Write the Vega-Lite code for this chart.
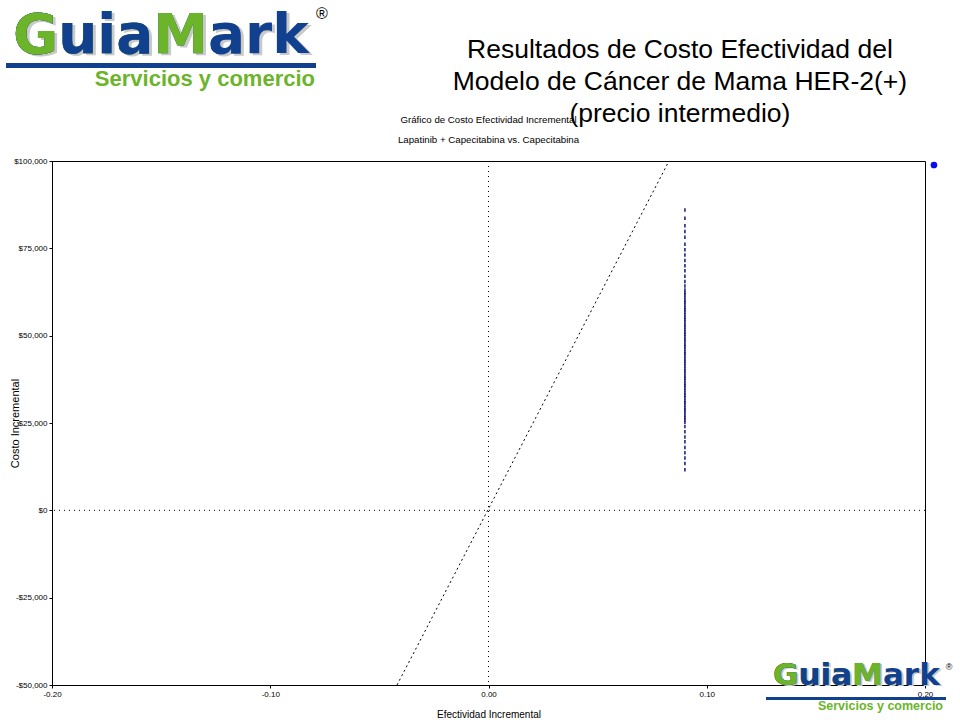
{
  "$schema": "https://vega.github.io/schema/vega-lite/v6.json",
  "width": 873,
  "height": 524,
  "autosize": {"type": "none"},
  "padding": {"left": 52, "top": 161, "right": 35, "bottom": 35},
  "background": "white",
  "config": {
    "view": {"stroke": "black", "strokeWidth": 1},
    "font": "Liberation Sans",
    "axis": {
      "grid": false, "tickSize": 3, "tickColor": "black", "domainColor": "black",
      "labelFont": "Liberation Sans", "labelFontSize": 8, "labelColor": "black", "labelPadding": 2,
      "labelFlush": false, "labelOverlap": false,
      "titleFont": "Liberation Sans", "titleFontSize": 10, "titleFontWeight": "normal", "titleColor": "black",
      "zindex": 1
    }
  },
  "datasets": {
    "zero": [{"v": 0}],
    "wtp": [{"x": -0.0419, "y": -50000}, {"x": 0.0827, "y": 100000}],
    "cluster": [
      {"x": 0.09, "y": 86000}, {"x": 0.09, "y": 83600}, {"x": 0.09, "y": 81500}, {"x": 0.09, "y": 79800}, {"x": 0.09, "y": 78200},
      {"x": 0.09, "y": 76200}, {"x": 0.09, "y": 74600}, {"x": 0.09, "y": 73100}, {"x": 0.09, "y": 71500}, {"x": 0.09, "y": 70000},
      {"x": 0.09, "y": 68600}, {"x": 0.09, "y": 67000}, {"x": 0.09, "y": 65500}, {"x": 0.09, "y": 64200},
      {"x": 0.09, "y": 63100}, {"x": 0.09, "y": 62300}, {"x": 0.09, "y": 61700}, {"x": 0.09, "y": 60900}, {"x": 0.09, "y": 60100},
      {"x": 0.09, "y": 59500}, {"x": 0.09, "y": 58800}, {"x": 0.09, "y": 58000}, {"x": 0.09, "y": 57400}, {"x": 0.09, "y": 56700},
      {"x": 0.09, "y": 56000}, {"x": 0.09, "y": 55200}, {"x": 0.09, "y": 54600}, {"x": 0.09, "y": 53900}, {"x": 0.09, "y": 53100},
      {"x": 0.09, "y": 52500}, {"x": 0.09, "y": 51800}, {"x": 0.09, "y": 51000}, {"x": 0.09, "y": 50400}, {"x": 0.09, "y": 49700},
      {"x": 0.09, "y": 49000}, {"x": 0.09, "y": 48300}, {"x": 0.09, "y": 47500}, {"x": 0.09, "y": 46900}, {"x": 0.09, "y": 46200},
      {"x": 0.09, "y": 45400}, {"x": 0.09, "y": 44800}, {"x": 0.09, "y": 44100}, {"x": 0.09, "y": 43300}, {"x": 0.09, "y": 42700},
      {"x": 0.09, "y": 42000}, {"x": 0.09, "y": 41300}, {"x": 0.09, "y": 40500}, {"x": 0.09, "y": 39900}, {"x": 0.09, "y": 39200},
      {"x": 0.09, "y": 38400}, {"x": 0.09, "y": 37800}, {"x": 0.09, "y": 37100}, {"x": 0.09, "y": 36300}, {"x": 0.09, "y": 35700},
      {"x": 0.09, "y": 35000}, {"x": 0.09, "y": 34300}, {"x": 0.09, "y": 33500}, {"x": 0.09, "y": 32900}, {"x": 0.09, "y": 32200},
      {"x": 0.09, "y": 31400}, {"x": 0.09, "y": 30800}, {"x": 0.09, "y": 30100}, {"x": 0.09, "y": 29300}, {"x": 0.09, "y": 28700},
      {"x": 0.09, "y": 28000}, {"x": 0.09, "y": 27200}, {"x": 0.09, "y": 26600}, {"x": 0.09, "y": 25900}, {"x": 0.09, "y": 25200},
      {"x": 0.09, "y": 24000}, {"x": 0.09, "y": 22500}, {"x": 0.09, "y": 21000}, {"x": 0.09, "y": 19600}, {"x": 0.09, "y": 18000},
      {"x": 0.09, "y": 16500}, {"x": 0.09, "y": 15000}, {"x": 0.09, "y": 13400}, {"x": 0.09, "y": 11600}
    ],
    "icer": [{"x": 0.2041, "y": 98855}],
    "heading": [
      {"x": 0.0877, "y": 129485, "t": "Resultados de Costo Efectividad del"},
      {"x": 0.0877, "y": 120324, "t": "Modelo de Cáncer de Mama HER-2(+)"},
      {"x": 0.0877, "y": 111164, "t": "(precio intermedio)"}
    ],
    "charttitle": [
      {"x": 0.0, "y": 110878, "t": "Gráfico de Costo Efectividad Incremental"},
      {"x": 0.0, "y": 105153, "t": "Lapatinib + Capecitabina vs. Capecitabina"}
    ],
    "logo1": [{"x": -0.21787, "y": 130916}],
    "bar1": [{"x": -0.22108, "x2": -0.07904, "y": 127338}],
    "serv1": [{"x": -0.0795, "y": 121470, "t": "Servicios y comercio"}],
    "reg1": [{"x": -0.07629, "y": 142080, "t": "®"}],
    "logo2": [{"x": 0.13036, "y": -50000}],
    "bar2": [{"x": 0.12715, "x2": 0.20962, "y": -53865}],
    "serv2": [{"x": 0.20825, "y": -57157, "t": "Servicios y comercio"}],
    "reg2": [{"x": 0.211, "y": -44848, "t": "®"}]
  },
  "encoding": {
    "x": {
      "field": "x", "type": "quantitative",
      "scale": {"domain": [-0.2, 0.2], "nice": false, "zero": false},
      "axis": {
        "values": [-0.2, -0.1, 0, 0.1, 0.2],
        "labelExpr": "(datum.value < 0 ? '-' : '') + format(abs(datum.value), '.2f')",
        "title": "Efectividad Incremental",
        "titlePadding": 11
      }
    },
    "y": {
      "field": "y", "type": "quantitative",
      "scale": {"domain": [-50000, 100000], "nice": false, "zero": false},
      "axis": {
        "values": [-50000, -25000, 0, 25000, 50000, 75000, 100000],
        "labelExpr": "(datum.value < 0 ? '-$' : '$') + format(abs(datum.value), ',')",
        "title": "Costo Incremental",
        "titleFontSize": 11,
        "titleAngle": -90, "titleX": -32, "titleY": 262, "titleAlign": "center", "titleBaseline": "bottom"
      }
    }
  },
  "layer": [
    {
      "data": {"name": "zero"},
      "mark": {"type": "rule", "color": "black", "strokeWidth": 1, "strokeDash": [1, 4]},
      "encoding": {
        "x": null,
        "y": {"field": "v", "type": "quantitative"}
      }
    },
    {
      "data": {"name": "zero"},
      "mark": {"type": "rule", "color": "black", "strokeWidth": 1, "strokeDash": [1, 4]},
      "encoding": {
        "y": null,
        "x": {"field": "v", "type": "quantitative"}
      }
    },
    {
      "data": {"name": "wtp"},
      "mark": {"type": "line", "color": "black", "strokeWidth": 1, "strokeDash": [2, 3]}
    },
    {
      "data": {"name": "cluster"},
      "mark": {"type": "tick", "orient": "vertical", "size": 3.5, "thickness": 1.5, "color": "#14147a", "opacity": 1}
    },
    {
      "data": {"name": "icer"},
      "mark": {"type": "point", "filled": true, "color": "#0a0af0", "size": 45, "opacity": 1}
    },
    {
      "data": {"name": "heading"},
      "mark": {"type": "text", "font": "Liberation Sans", "fontSize": 26.5, "color": "black", "align": "center", "baseline": "alphabetic"},
      "encoding": {"text": {"field": "t"}}
    },
    {
      "data": {"name": "charttitle"},
      "mark": {"type": "text", "font": "Liberation Sans", "fontSize": 9.7, "color": "black", "align": "center", "baseline": "alphabetic"},
      "encoding": {"text": {"field": "t"}}
    },
    {
      "data": {"name": "logo1"},
      "layer": [
        {"mark": {"type": "text", "text": "GuiaMark", "font": "DejaVu Sans", "fontWeight": "bold", "fontSize": 55, "align": "left", "baseline": "alphabetic", "color": "#c9c9c9", "dx": 3, "dy": 2}},
        {"mark": {"type": "text", "text": "GuiaMark", "font": "DejaVu Sans", "fontWeight": "bold", "fontSize": 55, "align": "left", "baseline": "alphabetic", "color": "#10408e"}},
        {"mark": {"type": "text", "text": "GuiaM", "font": "DejaVu Sans", "fontWeight": "bold", "fontSize": 55, "align": "left", "baseline": "alphabetic", "color": "#6cb42a"}},
        {"mark": {"type": "text", "text": "Guia", "font": "DejaVu Sans", "fontWeight": "bold", "fontSize": 55, "align": "left", "baseline": "alphabetic", "color": "#10408e"}},
        {"mark": {"type": "text", "text": "G", "font": "DejaVu Sans", "fontWeight": "bold", "fontSize": 55, "align": "left", "baseline": "alphabetic", "color": "#6cb42a"}}
      ]
    },
    {
      "data": {"name": "bar1"},
      "mark": {"type": "rule", "color": "#10408e", "strokeWidth": 5},
      "encoding": {"x2": {"field": "x2"}}
    },
    {
      "data": {"name": "serv1"},
      "mark": {"type": "text", "font": "Liberation Sans", "fontWeight": "bold", "fontSize": 22, "align": "right", "baseline": "alphabetic", "color": "#6cb42a"},
      "encoding": {"text": {"field": "t"}}
    },
    {
      "data": {"name": "reg1"},
      "mark": {"type": "text", "font": "Liberation Sans", "fontSize": 16, "align": "center", "baseline": "middle", "color": "black"},
      "encoding": {"text": {"field": "t"}}
    },
    {
      "data": {"name": "logo2"},
      "layer": [
        {"mark": {"type": "text", "text": "GuiaMark", "font": "DejaVu Sans", "fontWeight": "bold", "fontSize": 31, "align": "left", "baseline": "alphabetic", "color": "#c9c9c9", "dx": 2, "dy": 1}},
        {"mark": {"type": "text", "text": "GuiaMark", "font": "DejaVu Sans", "fontWeight": "bold", "fontSize": 31, "align": "left", "baseline": "alphabetic", "color": "#10408e"}},
        {"mark": {"type": "text", "text": "GuiaM", "font": "DejaVu Sans", "fontWeight": "bold", "fontSize": 31, "align": "left", "baseline": "alphabetic", "color": "#6cb42a"}},
        {"mark": {"type": "text", "text": "Guia", "font": "DejaVu Sans", "fontWeight": "bold", "fontSize": 31, "align": "left", "baseline": "alphabetic", "color": "#10408e"}},
        {"mark": {"type": "text", "text": "G", "font": "DejaVu Sans", "fontWeight": "bold", "fontSize": 31, "align": "left", "baseline": "alphabetic", "color": "#6cb42a"}}
      ]
    },
    {
      "data": {"name": "bar2"},
      "mark": {"type": "rule", "color": "#10408e", "strokeWidth": 3},
      "encoding": {"x2": {"field": "x2"}}
    },
    {
      "data": {"name": "serv2"},
      "mark": {"type": "text", "font": "Liberation Sans", "fontWeight": "bold", "fontSize": 12.5, "align": "right", "baseline": "alphabetic", "color": "#6cb42a"},
      "encoding": {"text": {"field": "t"}}
    },
    {
      "data": {"name": "reg2"},
      "mark": {"type": "text", "font": "Liberation Sans", "fontSize": 9, "align": "center", "baseline": "middle", "color": "black"},
      "encoding": {"text": {"field": "t"}}
    }
  ]
}
